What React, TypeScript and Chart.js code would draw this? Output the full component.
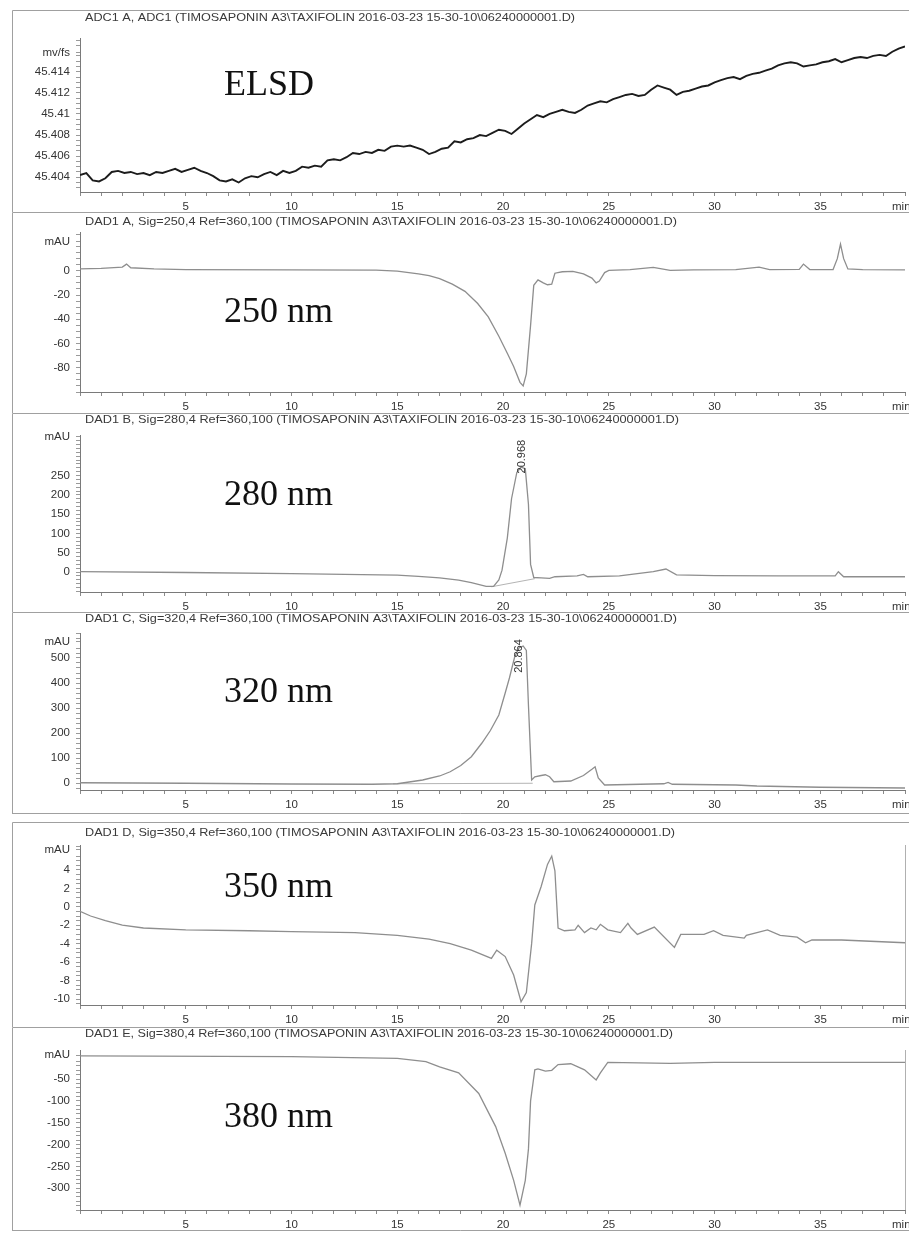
import { useEffect, useRef } from 'react';
import { Chart, registerables } from 'chart.js';

Chart.register(...registerables);

// ---------------- text ----------------
const runFile = '(TIMOSAPONIN A3\\TAXIFOLIN 2016-03-23 15-30-10\\06240000001.D)';
const panelTitles = [
  'ADC1 A, ADC1 ' + runFile,
  'DAD1 A, Sig=250,4 Ref=360,100 ' + runFile,
  'DAD1 B, Sig=280,4 Ref=360,100 ' + runFile,
  'DAD1 C, Sig=320,4 Ref=360,100 ' + runFile,
  'DAD1 D, Sig=350,4 Ref=360,100 ' + runFile,
  'DAD1 E, Sig=380,4 Ref=360,100 ' + runFile,
];
const panelLabels = ['ELSD', '250 nm', '280 nm', '320 nm', '350 nm', '380 nm'];
const unitLabels = ['mv/fs', 'mAU', 'mAU', 'mAU', 'mAU', 'mAU'];
const xTickLabels = [5, 10, 15, 20, 25, 30, 35];
const xUnit = 'min';

// ---------------- y tick labels ----------------
const elsdTicks = [45.404, 45.406, 45.408, 45.41, 45.412, 45.414];
const dad250Ticks = [0, -20, -40, -60, -80];
const dad280Ticks = [0, 50, 100, 150, 200, 250];
const dad320Ticks = [0, 100, 200, 300, 400, 500];
const dad350Ticks = [4, 2, 0, -2, -4, -6, -8, -10];
const dad380Ticks = [-50, -100, -150, -200, -250, -300];

// ---------------- peak annotations ----------------
const dad280Peak = { time: 20.968, text: '20.968' };
const dad320Peak = { time: 20.864, text: '20.864' };

// ---------------- series: [time (min), signal] ----------------
const elsdSignal: [number, number][] = [
  [0, 45.4042], [0.3, 45.4044], [0.6, 45.4037], [0.9, 45.4036], [1.2, 45.4039], [1.5, 45.4045],
  [1.8, 45.4046], [2.1, 45.4044], [2.4, 45.4045], [2.7, 45.4043], [3.0, 45.4044], [3.3, 45.4042],
  [3.6, 45.4045], [3.9, 45.4044], [4.2, 45.4046], [4.5, 45.4048], [4.8, 45.4045], [5.1, 45.4047],
  [5.4, 45.4049], [5.7, 45.4046], [6.0, 45.4044], [6.3, 45.4041], [6.6, 45.4037], [6.9, 45.4036],
  [7.2, 45.4038], [7.5, 45.4035], [7.8, 45.4039], [8.1, 45.4041], [8.4, 45.404], [8.7, 45.4043],
  [9.0, 45.4045], [9.3, 45.4042], [9.6, 45.4046], [9.9, 45.4044], [10.2, 45.4046], [10.5, 45.405],
  [10.8, 45.4049], [11.1, 45.4051], [11.4, 45.405], [11.7, 45.4056], [12.0, 45.4057], [12.3, 45.4056],
  [12.6, 45.4059], [12.9, 45.4063], [13.2, 45.4062], [13.5, 45.4064], [13.8, 45.4063], [14.1, 45.4066],
  [14.4, 45.4065], [14.7, 45.4069], [15.0, 45.407], [15.3, 45.4069], [15.6, 45.407], [15.9, 45.4068],
  [16.2, 45.4066], [16.5, 45.4062], [16.8, 45.4064], [17.1, 45.4067], [17.4, 45.4068], [17.7, 45.4074],
  [18.0, 45.4073], [18.3, 45.4076], [18.6, 45.4077], [18.9, 45.408], [19.2, 45.4079], [19.5, 45.4082],
  [19.8, 45.4085], [20.1, 45.4084], [20.4, 45.4081], [20.7, 45.4086], [21.0, 45.4091], [21.3, 45.4095],
  [21.6, 45.4099], [21.9, 45.4097], [22.2, 45.41], [22.5, 45.4102], [22.8, 45.4104], [23.1, 45.4102],
  [23.4, 45.4101], [23.7, 45.4104], [24.0, 45.4108], [24.3, 45.411], [24.6, 45.4112], [24.9, 45.4111],
  [25.2, 45.4114], [25.5, 45.4116], [25.8, 45.4118], [26.1, 45.4119], [26.4, 45.4117], [26.7, 45.4118],
  [27.0, 45.4123], [27.3, 45.4127], [27.6, 45.4125], [27.9, 45.4123], [28.2, 45.4118], [28.5, 45.4121],
  [28.8, 45.4122], [29.1, 45.4124], [29.4, 45.4126], [29.7, 45.4127], [30.0, 45.413], [30.3, 45.4132],
  [30.6, 45.4134], [30.9, 45.4135], [31.2, 45.4133], [31.5, 45.4136], [31.8, 45.4138], [32.1, 45.4139],
  [32.4, 45.4141], [32.7, 45.4143], [33.0, 45.4146], [33.3, 45.4148], [33.6, 45.4149], [33.9, 45.4148],
  [34.2, 45.4145], [34.5, 45.4146], [34.8, 45.4147], [35.1, 45.4149], [35.4, 45.415], [35.7, 45.4152],
  [36.0, 45.4149], [36.3, 45.4151], [36.6, 45.4153], [36.9, 45.4154], [37.2, 45.4153], [37.5, 45.4155],
  [37.8, 45.4156], [38.1, 45.4155], [38.4, 45.4159], [38.7, 45.4162], [39.0, 45.4164],
];

const dad250Signal: [number, number][] = [
  [0, 1.5], [1.0, 2.0], [2.0, 3.0], [2.2, 5.5], [2.4, 2.5], [3.5, 1.5], [5, 1.0], [10, 0.8], [14, 0.5],
  [15, -0.3], [16, -2.5], [16.5, -4], [17, -6.5], [17.6, -11], [18.2, -17], [18.8, -27], [19.3, -38],
  [19.8, -54], [20.2, -68], [20.5, -79], [20.8, -92], [20.95, -95], [21.1, -85], [21.3, -45], [21.45, -12],
  [21.65, -7.5], [21.9, -10], [22.1, -11.5], [22.3, -11], [22.45, -2], [22.8, -0.8], [23.3, -0.5],
  [23.8, -2.5], [24.2, -6], [24.4, -10], [24.55, -8.5], [24.8, -1.5], [25.0, 0.3], [26, 1.0], [27.1, 2.8],
  [27.9, 0.3], [29, 0.8], [31, 1], [32.1, 3], [32.6, 1], [34.0, 1.2], [34.2, 5.5], [34.5, 1.0], [35.6, 1.0],
  [35.8, 10], [35.95, 22], [36.1, 10], [36.3, 1.5], [37, 1.0], [39, 0.8],
];

const dad280Signal: [number, number][] = [
  [0, 1], [5, -1], [10, -4], [15, -8], [16, -11], [17, -15], [17.9, -21], [18.5, -27], [19.2, -37],
  [19.55, -37], [19.8, -20], [19.95, 5], [20.2, 88], [20.4, 190], [20.65, 258], [20.85, 272], [21.05, 268],
  [21.2, 175], [21.3, 20], [21.45, -14], [21.8, -15], [22.2, -16], [22.45, -12], [23.5, -10], [23.8, -6],
  [24.0, -12], [25.5, -10], [27.1, 1], [27.7, 8], [28.2, -7], [30, -9], [33, -10], [35.7, -10], [35.85, 1],
  [36.1, -12], [39, -12],
];
const dad280Baseline: [number, number][] = [[19.45, -38], [21.5, -17]];

const dad320Signal: [number, number][] = [
  [0, 1], [5, -1], [10, -4], [13.8, -5], [15, -3], [16.2, 12], [17.0, 28], [17.5, 45], [18.0, 70],
  [18.5, 105], [19.0, 160], [19.4, 210], [19.8, 272], [20.1, 360], [20.3, 420], [20.55, 505], [20.75, 540],
  [20.95, 548], [21.1, 530], [21.2, 310], [21.35, 12], [21.5, 25], [21.8, 30], [22.0, 33], [22.2, 25],
  [22.4, 5], [23.2, 8], [23.8, 30], [24.2, 55], [24.35, 65], [24.5, 20], [24.8, -8], [27.6, -3], [27.8, 2],
  [28.0, -5], [31, -8], [32, -12], [35, -17], [39, -20],
];
const dad320Baseline: [number, number][] = [[14.8, -3], [21.4, -1]];

const dad350Signal: [number, number][] = [
  [0, -0.5], [0.5, -1.0], [1.2, -1.5], [2.0, -2.0], [3.0, -2.3], [5, -2.5], [8, -2.6], [10, -2.7],
  [13, -2.8], [15, -3.1], [16.5, -3.5], [17.5, -4.0], [18.5, -4.7], [19.45, -5.6], [19.7, -4.7],
  [20.1, -5.4], [20.5, -7.4], [20.85, -10.3], [21.1, -9.3], [21.35, -4], [21.5, 0.2], [21.8, 2.2],
  [22.1, 4.6], [22.3, 5.5], [22.45, 3.9], [22.6, -2.3], [22.9, -2.6], [23.4, -2.5], [23.55, -2.0],
  [23.85, -2.8], [24.15, -2.3], [24.4, -2.5], [24.6, -1.9], [24.95, -2.5], [25.55, -2.8], [25.9, -1.8],
  [26.05, -2.3], [26.35, -3.0], [27.15, -2.2], [28.1, -4.4], [28.4, -3.0], [29.5, -3.0], [29.95, -2.6],
  [30.4, -3.1], [31.4, -3.4], [31.5, -3.1], [32.5, -2.5], [33.1, -3.1], [33.9, -3.3], [34.3, -3.9],
  [34.6, -3.6], [36, -3.6], [39, -3.9],
];

const dad380Signal: [number, number][] = [
  [0, 3], [10, 1.5], [15, -2.5], [16.35, -10], [17.0, -22], [17.9, -36], [18.85, -83], [19.65, -159],
  [20.1, -220], [20.5, -282], [20.8, -339], [21.05, -282], [21.2, -210], [21.3, -100], [21.5, -29],
  [21.65, -27], [22.0, -32], [22.3, -30], [22.6, -17], [23.2, -15], [23.85, -29], [24.4, -52], [24.6, -36],
  [24.95, -12], [27.9, -14], [30, -12], [39, -12],
];

// ---------------- layout / style (not data) ----------------
const W = 909;
const X_MAX = 39;
const AXIS_LEFT = 80;

type Spec = {
  idx: number; series: [number, number][]; baseline?: [number, number][];
  ticks: number[]; unitAt: number; min: number; max: number; minor: number;
  top: number; height: number; padTop: number; xH: number;
  titleY: number; titleW: number; labelY: number;
  color: string; lw: number; bottomLine?: boolean; rightLine?: boolean;
  peak?: { time: number; text: string }; peakY?: number;
};

const specs: Spec[] = [
  { idx: 0, series: elsdSignal, ticks: elsdTicks, unitAt: 45.4158, min: 45.4026, max: 45.4172, minor: 0.0005,
    top: 10, height: 202, padTop: 28, xH: 20, titleY: 8, titleW: 490, labelY: 85, color: '#1c1c1c', lw: 1.9 },
  { idx: 1, series: dad250Signal, ticks: dad250Ticks, unitAt: 24, min: -100, max: 32, minor: 5,
    top: 212, height: 201, padTop: 20, xH: 21, titleY: 10, titleW: 592, labelY: 110, color: '#8e8e8e', lw: 1.3 },
  { idx: 2, series: dad280Signal, baseline: dad280Baseline, ticks: dad280Ticks, unitAt: 350, min: -51.5, max: 355, minor: 10,
    top: 413, height: 199, padTop: 22, xH: 20, titleY: 7, titleW: 594, labelY: 92, color: '#8e8e8e', lw: 1.3,
    peak: dad280Peak, peakY: 299 },
  { idx: 3, series: dad320Signal, baseline: dad320Baseline, ticks: dad320Ticks, unitAt: 565, min: -28, max: 600, minor: 20,
    top: 612, height: 202, padTop: 21, xH: 24, titleY: 7, titleW: 592, labelY: 90, color: '#8e8e8e', lw: 1.3, bottomLine: true,
    peak: dad320Peak, peakY: 508 },
  { idx: 4, series: dad350Signal, ticks: dad350Ticks, unitAt: 6.2, min: -10.65, max: 6.7, minor: 0.5,
    top: 822, height: 205, padTop: 23, xH: 22, titleY: 11, titleW: 590, labelY: 75, color: '#8e8e8e', lw: 1.3, rightLine: true },
  { idx: 5, series: dad380Signal, ticks: dad380Ticks, unitAt: 5, min: -350, max: 16.5, minor: 10,
    top: 1027, height: 204, padTop: 23, xH: 21, titleY: 7, titleW: 588, labelY: 100, color: '#8e8e8e', lw: 1.3, bottomLine: true, rightLine: true },
];

const FONT = '"Liberation Sans", Arial, sans-serif';
const TICK_FONT_SIZE = 11.5;

const panelDecor = {
  id: 'panelDecor',
  beforeDraw(chart: any) {
    const { ctx, width, height } = chart;
    ctx.save();
    ctx.fillStyle = '#ffffff';
    ctx.fillRect(0, 0, width, height);
    ctx.restore();
  },
  afterDraw(chart: any, _args: any, opts: any) {
    const { ctx, chartArea, width, height } = chart;
    ctx.save();
    // frame
    ctx.strokeStyle = '#a0a0a0';
    ctx.lineWidth = 1;
    ctx.beginPath();
    ctx.moveTo(12.5, height);
    ctx.lineTo(12.5, 0.5);
    ctx.lineTo(width, 0.5);
    if (opts.bottomLine) {
      ctx.moveTo(12.5, height - 0.5);
      ctx.lineTo(width, height - 0.5);
    }
    ctx.stroke();
    if (opts.rightLine) {
      ctx.strokeStyle = '#b0b0b0';
      ctx.beginPath();
      ctx.moveTo(905.5, chartArea.top);
      ctx.lineTo(905.5, chartArea.bottom);
      ctx.stroke();
    }
    // title
    ctx.font = '11px ' + FONT;
    ctx.fillStyle = '#3a3a3a';
    ctx.textBaseline = 'middle';
    ctx.textAlign = 'left';
    const tw = ctx.measureText(opts.title).width;
    ctx.save();
    ctx.translate(AXIS_LEFT + 5, opts.titleY);
    ctx.scale(opts.titleW / tw, 1);
    ctx.fillText(opts.title, 0, 0);
    ctx.restore();
    // x unit
    ctx.font = TICK_FONT_SIZE + 'px ' + FONT;
    ctx.fillStyle = '#333';
    ctx.fillText(opts.xUnit, 892, chartArea.bottom + 15);
    // big panel label
    ctx.font = '36px "Liberation Serif", "Times New Roman", serif';
    ctx.fillStyle = '#111';
    ctx.textBaseline = 'alphabetic';
    ctx.fillText(opts.label, 224, opts.labelY);
    // peak label
    if (opts.peak) {
      const px = chart.scales.x.getPixelForValue(opts.peak.time) - 2;
      const py = chart.scales.y.getPixelForValue(opts.peakY);
      ctx.font = '11px ' + FONT;
      ctx.fillStyle = '#333';
      ctx.translate(px, py);
      ctx.rotate(-Math.PI / 2);
      ctx.textAlign = 'center';
      ctx.textBaseline = 'middle';
      ctx.fillText(opts.peak.text, 0, 0);
    }
    ctx.restore();
  },
};

function Panel({ spec }: { spec: Spec }) {
  const ref = useRef<HTMLCanvasElement>(null);
  useEffect(() => {
    const canvas = ref.current;
    if (!canvas) return;
    const eps = spec.minor / 10;
    const yMinorTicks: number[] = [];
    for (let k = Math.ceil(spec.min / spec.minor); k * spec.minor <= spec.max; k++) {
      const v = k * spec.minor;
      if (Math.abs(v - spec.unitAt) > spec.minor / 2) yMinorTicks.push(v);
    }
    yMinorTicks.push(spec.unitAt);
    const xAllTicks: number[] = [];
    for (let k = 0; k <= X_MAX; k++) xAllTicks.push(k);

    const datasets: any[] = [
      {
        data: spec.series.map(([x, y]) => ({ x, y })),
        borderColor: spec.color,
        borderWidth: spec.lw,
        pointRadius: 0,
        tension: 0,
        fill: false,
      },
    ];
    if (spec.baseline) {
      datasets.push({
        data: spec.baseline.map(([x, y]) => ({ x, y })),
        borderColor: '#b4b4b4',
        borderWidth: 1,
        pointRadius: 0,
        tension: 0,
        fill: false,
      });
    }

    const chart = new Chart(canvas, {
      type: 'line',
      data: { datasets },
      options: {
        animation: false,
        responsive: false,
        devicePixelRatio: 1,
        layout: { padding: { top: spec.padTop, left: 0, right: 0, bottom: 0 } },
        plugins: {
          legend: { display: false },
          tooltip: { enabled: false },
          title: { display: false },
          panelDecor: {
            title: panelTitles[spec.idx],
            titleY: spec.titleY,
            titleW: spec.titleW,
            label: panelLabels[spec.idx],
            labelY: spec.labelY,
            xUnit,
            bottomLine: spec.bottomLine,
            rightLine: spec.rightLine,
            peak: spec.peak,
            peakY: spec.peakY,
          },
        } as any,
        scales: {
          x: {
            type: 'linear',
            min: 0,
            max: X_MAX,
            afterFit: (s: any) => { s.height = spec.xH; },
            afterBuildTicks: (s: any) => { s.ticks = xAllTicks.map((v) => ({ value: v })); },
            ticks: {
              autoSkip: false,
              maxRotation: 0,
              minRotation: 0,
              padding: 4,
              color: '#333',
              font: { family: FONT, size: TICK_FONT_SIZE },
              callback: (v: any) => (xTickLabels.includes(Number(v)) ? String(v) : ''),
            },
            grid: { drawOnChartArea: false, drawTicks: true, tickLength: 4, color: '#8a8a8a' },
            border: { display: true, color: '#7a7a7a', width: 1 },
          },
          y: {
            type: 'linear',
            min: spec.min,
            max: spec.max,
            afterFit: (s: any) => { s.width = AXIS_LEFT; },
            afterBuildTicks: (s: any) => { s.ticks = yMinorTicks.map((v) => ({ value: v })); },
            ticks: {
              autoSkip: false,
              padding: 6,
              color: '#333',
              font: { family: FONT, size: TICK_FONT_SIZE },
              callback: (v: any) => {
                const n = Number(v);
                if (Math.abs(n - spec.unitAt) < eps) return unitLabels[spec.idx];
                const m = spec.ticks.find((t) => Math.abs(t - n) < eps);
                return m !== undefined ? String(m) : '';
              },
            },
            grid: { drawOnChartArea: false, drawTicks: true, tickLength: 4, color: '#9a9a9a' },
            border: { display: true, color: '#7a7a7a', width: 1 },
          },
        },
      },
      plugins: [panelDecor],
    } as any);
    return () => chart.destroy();
  }, [spec]);
  return (
    <canvas
      ref={ref}
      width={W}
      height={spec.height}
      style={{ position: 'absolute', left: 0, top: spec.top, display: 'block', width: W, height: spec.height }}
    />
  );
}

export default function App() {
  return (
    <div style={{ position: 'absolute', left: 0, top: 0, width: W, height: 1237, background: '#fff', overflow: 'hidden' }}>
      {specs.map((s) => (
        <Panel key={s.idx} spec={s} />
      ))}
    </div>
  );
}
